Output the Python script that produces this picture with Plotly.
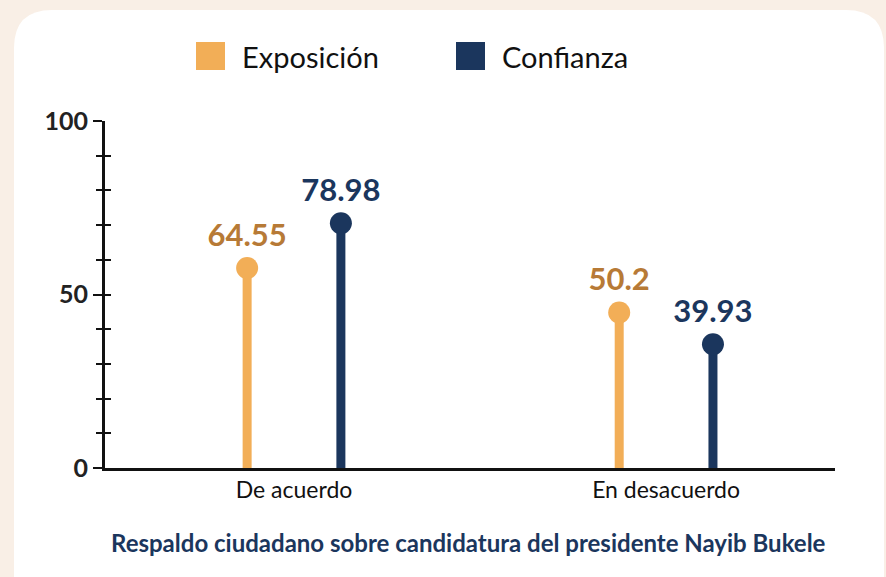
import plotly.graph_objects as go

categories = ["De acuerdo", "En desacuerdo"]
series_names = ["Exposición", "Confianza"]
exposicion = [64.55, 50.2]
confianza = [78.98, 39.93]
y_ticks = [0, 50, 100]
caption = "Respaldo ciudadano sobre candidatura del presidente Nayib Bukele"

ORANGE = "#F2AE57"
ORANGE_TEXT = "#B77A36"
NAVY = "#1B365D"
BEIGE = "#F9EFE6"
FONT = "Lato"

W, H = 886, 577
L, R, T, B = 105, 51, 121, 109
PW, PH = W - L - R, H - T - B


def px(x):
    return (x - L) / PW


def py(y):
    return (H - B - y) / PH


def rounded_rect(x0, y0, x1, y1, r):
    rx, ry = r / PW, r / PH
    a, b, c, d = px(x0), py(y1), px(x1), py(y0)
    return (f"M {a + rx},{d} L {c - rx},{d} Q {c},{d} {c},{d - ry} "
            f"L {c},{b + ry} Q {c},{b} {c - rx},{b} L {a + rx},{b} "
            f"Q {a},{b} {a},{b + ry} L {a},{d - ry} Q {a},{d} {a + rx},{d} Z")


offset = 0.126
fig = go.Figure()

for vals, color, txt_color, sign, name in [
    (exposicion, ORANGE, ORANGE_TEXT, -1, series_names[0]),
    (confianza, NAVY, NAVY, 1, series_names[1]),
]:
    xs = [i + sign * offset for i in range(len(categories))]
    stem_x, stem_y = [], []
    for x, v in zip(xs, vals):
        stem_x += [x, x, None]
        stem_y += [0, v, None]
    fig.add_trace(go.Scatter(x=stem_x, y=stem_y, mode="lines", yaxis="y2",
                             line=dict(color=color, width=9), showlegend=False,
                             hoverinfo="skip"))
    fig.add_trace(go.Scatter(x=xs, y=vals, mode="markers+text", yaxis="y2", name=name,
                             marker=dict(color=color, size=22),
                             text=[f"{v:g}" for v in vals], textposition="top center",
                             textfont=dict(family=FONT, size=31, color=txt_color, weight="bold"),
                             showlegend=False))

# invisible traces so the tick axes get drawn
for ax in ["y", "y3"]:
    fig.add_trace(go.Scatter(x=[0], y=[0], yaxis=ax, mode="markers",
                             marker=dict(opacity=0), showlegend=False, hoverinfo="skip"))

shapes = [dict(type="path", path=rounded_rect(14, 10, 884, 620, 38), xref="paper", yref="paper",
               fillcolor="white", line=dict(width=0), layer="below")]
annotations = []
for x0, color, name in [(196, ORANGE, series_names[0]), (456, NAVY, series_names[1])]:
    shapes.append(dict(type="rect", xref="paper", yref="paper", x0=px(x0), x1=px(x0 + 29),
                       y0=py(70), y1=py(42), fillcolor=color, line=dict(width=0)))
    annotations.append(dict(x=px(x0 + 44), y=py(56), xref="paper", yref="paper", text=name,
                            showarrow=False, xanchor="left", yanchor="middle",
                            font=dict(family=FONT, size=29, color="#111")))
annotations.append(dict(x=px(468), y=py(542), xref="paper", yref="paper", text=caption,
                        showarrow=False, xanchor="center", yanchor="middle",
                        font=dict(family=FONT, size=24, color=NAVY, weight="bold")))

fig.update_layout(
    width=W, height=H,
    margin=dict(l=L, r=R, t=T, b=B, pad=0),
    paper_bgcolor=BEIGE, plot_bgcolor="rgba(0,0,0,0)",
    shapes=shapes, annotations=annotations,
    xaxis=dict(range=[-0.508, 1.454], tickvals=list(range(len(categories))), ticktext=categories,
               ticks="", showgrid=False, zeroline=False, showline=True, linewidth=2.5,
               linecolor="#111", tickfont=dict(family=FONT, size=23, color="#111")),
    yaxis=dict(range=[0, 100], tickvals=y_ticks, ticks="outside", ticklen=9, tickwidth=2,
               tickcolor="#111", showline=True, linewidth=3, linecolor="#111",
               showgrid=False, zeroline=False,
               minor=dict(dtick=10, ticks="outside", ticklen=6, tickwidth=1.5, tickcolor="#111"),
               tickfont=dict(family=FONT, size=25, color="#222", weight="bold")),
    yaxis2=dict(range=[0, 112], overlaying="y", visible=False),
    yaxis3=dict(range=[0, 100], overlaying="y", tickvals=list(range(0, 101, 10)), ticks="inside",
                ticklen=6, tickwidth=1.5, tickcolor="#111", showticklabels=False,
                showline=False, showgrid=False, zeroline=False),
)

fig.write_html("out.html", config={"displayModeBar": False},
               post_script="document.body.style.margin='0';")
